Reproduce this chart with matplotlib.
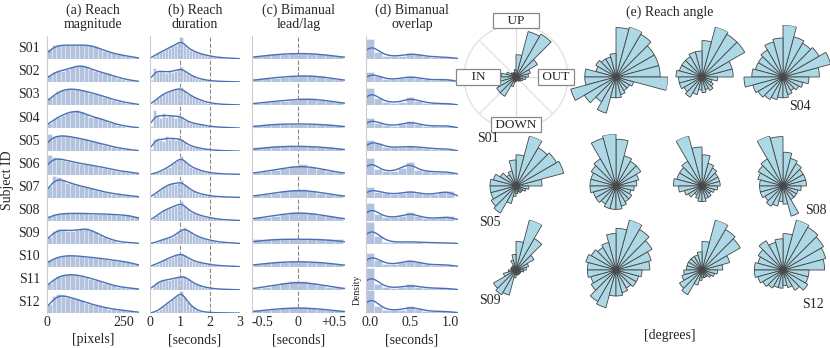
import numpy as np
import matplotlib
matplotlib.use("Agg")
import matplotlib.pyplot as plt
import seaborn as sns

sns.set_style("white")
plt.rcParams['font.family'] = ['Liberation Serif', 'DejaVu Serif']

# subjects
subjects = ["S01", "S02", "S03", "S04", "S05", "S06",
            "S07", "S08", "S09", "S10", "S11", "S12"]

# (a) reach magnitude, 20 bins over 0..300 px (heights as fraction of row)
mag_edges = np.linspace(0, 300, 21)
mag_hist = [
    [0.45, 0.6, 0.62, 0.6, 0.6, 0.6, 0.62, 0.6, 0.62, 0.6, 0.55, 0.45, 0.35, 0.3, 0.25, 0.2, 0.17, 0.12, 0.1, 0.08],
    [0.3, 0.45, 0.5, 0.5, 0.55, 0.65, 0.72, 0.75, 0.7, 0.55, 0.5, 0.45, 0.4, 0.35, 0.28, 0.2, 0.15, 0.1, 0.08, 0.06],
    [0.3, 0.45, 0.6, 0.68, 0.72, 0.72, 0.7, 0.65, 0.6, 0.55, 0.5, 0.45, 0.38, 0.3, 0.25, 0.2, 0.15, 0.1, 0.08, 0.06],
    [0.25, 0.4, 0.5, 0.6, 0.68, 0.75, 0.78, 0.72, 0.62, 0.5, 0.48, 0.45, 0.35, 0.28, 0.22, 0.15, 0.12, 0.08, 0.06, 0.05],
    [0.75, 0.65, 0.68, 0.7, 0.68, 0.62, 0.58, 0.55, 0.52, 0.45, 0.4, 0.35, 0.3, 0.25, 0.2, 0.15, 0.12, 0.1, 0.07, 0.05],
    [0.85, 0.78, 0.7, 0.65, 0.6, 0.55, 0.5, 0.48, 0.45, 0.42, 0.38, 0.35, 0.3, 0.25, 0.2, 0.17, 0.14, 0.12, 0.1, 0.08],
    [0.5, 0.95, 0.9, 0.75, 0.65, 0.6, 0.55, 0.5, 0.45, 0.4, 0.35, 0.3, 0.25, 0.2, 0.18, 0.15, 0.12, 0.1, 0.08, 0.06],
    [0.2, 0.28, 0.3, 0.32, 0.32, 0.32, 0.33, 0.32, 0.32, 0.3, 0.3, 0.3, 0.3, 0.28, 0.28, 0.26, 0.25, 0.24, 0.22, 0.2],
    [0.3, 0.55, 0.65, 0.6, 0.58, 0.55, 0.6, 0.65, 0.7, 0.62, 0.5, 0.4, 0.3, 0.22, 0.15, 0.1, 0.08, 0.06, 0.05, 0.04],
    [0.3, 0.4, 0.45, 0.48, 0.5, 0.5, 0.48, 0.46, 0.44, 0.42, 0.4, 0.38, 0.35, 0.32, 0.3, 0.27, 0.25, 0.2, 0.18, 0.15],
    [0.3, 0.5, 0.6, 0.65, 0.68, 0.68, 0.66, 0.62, 0.58, 0.5, 0.45, 0.4, 0.32, 0.25, 0.2, 0.15, 0.12, 0.1, 0.08, 0.07],
    [0.4, 0.75, 0.82, 0.8, 0.72, 0.65, 0.6, 0.55, 0.45, 0.4, 0.35, 0.3, 0.25, 0.2, 0.18, 0.15, 0.12, 0.1, 0.08, 0.06],
]

# (b) reach duration, 30 bins over 0..3 s
dur_edges = np.linspace(0, 3, 31)
dur_hist = [
    [0.05, 0.15, 0.25, 0.3, 0.35, 0.45, 0.5, 0.55, 0.6, 0.7, 0.95, 0.6, 0.5, 0.4, 0.35, 0.3, 0.25, 0.2, 0.18, 0.15, 0.12, 0.1, 0.08, 0.07, 0.06, 0.05, 0.04, 0.04, 0.03, 0.03],
    [0.1, 0.6, 0.45, 0.5, 0.45, 0.4, 0.5, 0.45, 0.5, 0.55, 0.65, 0.5, 0.4, 0.3, 0.25, 0.2, 0.15, 0.12, 0.1, 0.08, 0.06, 0.05, 0.04, 0.04, 0.03, 0.03, 0.02, 0.02, 0.02, 0.02],
    [0.05, 0.2, 0.3, 0.4, 0.5, 0.55, 0.6, 0.65, 0.7, 0.7, 0.8, 0.6, 0.5, 0.45, 0.35, 0.3, 0.25, 0.2, 0.15, 0.12, 0.1, 0.08, 0.06, 0.05, 0.04, 0.04, 0.03, 0.03, 0.02, 0.02],
    [0.1, 0.8, 0.55, 0.45, 0.65, 0.5, 0.6, 0.55, 0.45, 0.6, 0.55, 0.35, 0.3, 0.25, 0.22, 0.2, 0.18, 0.15, 0.12, 0.1, 0.08, 0.07, 0.06, 0.05, 0.05, 0.04, 0.04, 0.03, 0.03, 0.03],
    [0.1, 0.55, 0.6, 0.5, 0.45, 0.65, 0.55, 0.6, 0.5, 0.6, 0.55, 0.4, 0.3, 0.25, 0.2, 0.18, 0.15, 0.12, 0.1, 0.08, 0.07, 0.06, 0.05, 0.04, 0.04, 0.03, 0.03, 0.03, 0.02, 0.02],
    [0.02, 0.05, 0.1, 0.15, 0.2, 0.3, 0.35, 0.45, 0.55, 0.65, 0.8, 0.6, 0.45, 0.35, 0.3, 0.25, 0.2, 0.15, 0.12, 0.1, 0.08, 0.06, 0.05, 0.04, 0.03, 0.03, 0.02, 0.02, 0.02, 0.02],
    [0.05, 0.15, 0.25, 0.35, 0.45, 0.5, 0.6, 0.62, 0.6, 0.65, 0.75, 0.55, 0.45, 0.35, 0.28, 0.22, 0.18, 0.15, 0.12, 0.1, 0.08, 0.06, 0.05, 0.04, 0.04, 0.03, 0.03, 0.02, 0.02, 0.02],
    [0.05, 0.15, 0.25, 0.35, 0.45, 0.5, 0.55, 0.6, 0.65, 0.7, 0.85, 0.65, 0.5, 0.4, 0.35, 0.3, 0.25, 0.2, 0.18, 0.15, 0.12, 0.1, 0.08, 0.06, 0.05, 0.04, 0.04, 0.03, 0.03, 0.02],
    [0.02, 0.05, 0.1, 0.15, 0.2, 0.25, 0.25, 0.3, 0.4, 0.5, 0.6, 0.75, 0.6, 0.5, 0.4, 0.35, 0.3, 0.25, 0.2, 0.18, 0.15, 0.12, 0.1, 0.08, 0.07, 0.06, 0.05, 0.04, 0.04, 0.03],
    [0.05, 0.1, 0.15, 0.2, 0.3, 0.35, 0.4, 0.45, 0.5, 0.55, 0.62, 0.5, 0.4, 0.32, 0.28, 0.22, 0.2, 0.17, 0.15, 0.12, 0.1, 0.08, 0.07, 0.06, 0.05, 0.04, 0.04, 0.03, 0.03, 0.03],
    [0.05, 0.2, 0.35, 0.4, 0.42, 0.45, 0.45, 0.5, 0.52, 0.55, 0.6, 0.62, 0.5, 0.4, 0.3, 0.25, 0.2, 0.15, 0.12, 0.1, 0.08, 0.06, 0.05, 0.04, 0.04, 0.03, 0.03, 0.02, 0.02, 0.02],
    [0.02, 0.05, 0.1, 0.2, 0.3, 0.4, 0.5, 0.6, 0.7, 0.8, 0.95, 0.7, 0.5, 0.35, 0.25, 0.15, 0.1, 0.07, 0.05, 0.04, 0.03, 0.02, 0.02, 0.02, 0.02, 0.01, 0.01, 0.01, 0.01, 0.01],
]

# (c) bimanual lead/lag, 10 bins over -0.625..0.625 s
lag_edges = np.linspace(-0.625, 0.625, 11)
lag_hist = [
    [0.15, 0.18, 0.2, 0.22, 0.26, 0.28, 0.25, 0.2, 0.18, 0.15],
    [0.15, 0.18, 0.2, 0.22, 0.28, 0.32, 0.3, 0.25, 0.2, 0.15],
    [0.12, 0.15, 0.18, 0.2, 0.25, 0.3, 0.32, 0.25, 0.2, 0.15],
    [0.15, 0.18, 0.18, 0.2, 0.2, 0.2, 0.2, 0.18, 0.17, 0.15],
    [0.18, 0.2, 0.22, 0.22, 0.24, 0.24, 0.22, 0.2, 0.18, 0.16],
    [0.1, 0.15, 0.2, 0.28, 0.38, 0.45, 0.35, 0.25, 0.15, 0.1],
    [0.12, 0.15, 0.2, 0.28, 0.35, 0.38, 0.3, 0.22, 0.15, 0.12],
    [0.15, 0.18, 0.22, 0.3, 0.4, 0.4, 0.32, 0.25, 0.2, 0.15],
    [0.2, 0.2, 0.2, 0.2, 0.22, 0.2, 0.2, 0.2, 0.2, 0.2],
    [0.15, 0.18, 0.2, 0.22, 0.25, 0.25, 0.22, 0.2, 0.18, 0.15],
    [0.1, 0.15, 0.2, 0.3, 0.38, 0.4, 0.3, 0.22, 0.15, 0.12],
    [0.12, 0.15, 0.18, 0.22, 0.25, 0.25, 0.22, 0.18, 0.15, 0.12],
]

# (d) bimanual overlap, 11 bins over -0.05..1.05 s
ovl_edges = np.linspace(-0.05, 1.05, 12)
ovl_hist = [
    [0.85, 0.3, 0.15, 0.12, 0.15, 0.25, 0.2, 0.12, 0.1, 0.1, 0.08],
    [0.45, 0.25, 0.15, 0.12, 0.18, 0.25, 0.2, 0.12, 0.1, 0.12, 0.12],
    [0.75, 0.3, 0.15, 0.12, 0.15, 0.35, 0.2, 0.12, 0.08, 0.08, 0.08],
    [0.45, 0.25, 0.15, 0.12, 0.18, 0.3, 0.2, 0.12, 0.1, 0.12, 0.12],
    [0.5, 0.35, 0.2, 0.18, 0.2, 0.22, 0.2, 0.15, 0.12, 0.12, 0.12],
    [0.7, 0.25, 0.15, 0.15, 0.3, 0.55, 0.2, 0.15, 0.12, 0.12, 0.12],
    [0.45, 0.25, 0.2, 0.15, 0.2, 0.3, 0.2, 0.15, 0.15, 0.25, 0.3],
    [0.75, 0.3, 0.15, 0.15, 0.2, 0.38, 0.2, 0.12, 0.1, 0.15, 0.2],
    [0.95, 0.35, 0.1, 0.08, 0.08, 0.1, 0.08, 0.06, 0.05, 0.05, 0.05],
    [0.6, 0.3, 0.15, 0.12, 0.2, 0.3, 0.2, 0.12, 0.1, 0.1, 0.1],
    [0.95, 0.25, 0.12, 0.1, 0.12, 0.25, 0.15, 0.1, 0.08, 0.08, 0.08],
    [1.0, 0.3, 0.15, 0.12, 0.15, 0.3, 0.2, 0.1, 0.08, 0.08, 0.08],
]

# (e) reach angle, 24 bins of 15 deg counter-clockwise from OUT (relative radius)
angle_step = 15
rose = [
    [0.25, 0.3, 0.5, 1.0, 0.95, 0.45, 0.15, 0.1, 0.1, 0.12, 0.2, 0.3, 0.35, 0.4, 0.45, 0.45, 0.2, 0.1, 0.08, 0.08, 0.1, 0.12, 0.15, 0.2],
    [0.85, 0.85, 0.85, 0.95, 1.0, 0.95, 0.45, 0.4, 0.4, 0.45, 0.4, 0.6, 0.6, 0.9, 0.7, 0.55, 0.72, 0.4, 0.4, 0.35, 0.3, 0.3, 0.35, 1.0],
    [0.6, 0.6, 0.95, 0.95, 1.0, 0.7, 0.5, 0.5, 0.45, 0.45, 0.45, 0.5, 0.45, 0.45, 0.4, 0.45, 0.35, 0.25, 0.3, 0.25, 0.3, 0.25, 0.2, 0.3],
    [0.7, 0.95, 0.8, 0.75, 0.8, 1.0, 0.75, 0.7, 0.6, 0.55, 0.55, 0.6, 0.75, 0.6, 0.55, 0.5, 0.45, 0.4, 0.4, 0.35, 0.3, 0.35, 0.4, 0.5],
    [0.5, 0.95, 0.9, 0.85, 1.0, 0.6, 0.5, 0.3, 0.25, 0.35, 0.45, 0.5, 0.5, 0.5, 0.55, 0.6, 0.35, 0.2, 0.15, 0.12, 0.15, 0.15, 0.2, 0.25],
    [0.4, 0.45, 0.55, 0.55, 0.6, 0.9, 1.0, 0.95, 0.6, 0.55, 0.5, 0.5, 0.5, 0.45, 0.45, 0.4, 0.45, 0.45, 0.45, 0.4, 0.35, 0.35, 0.3, 0.35],
    [0.35, 0.35, 0.35, 0.4, 0.45, 0.6, 0.75, 1.0, 0.55, 0.5, 0.5, 0.55, 0.45, 0.35, 0.3, 0.2, 0.25, 0.3, 0.3, 0.25, 0.25, 0.2, 0.25, 0.3],
    [0.45, 0.45, 0.45, 0.5, 0.55, 0.65, 0.95, 1.0, 0.6, 0.55, 0.5, 0.45, 0.45, 0.45, 0.4, 0.45, 0.4, 0.3, 0.35, 0.6, 0.3, 0.3, 0.3, 0.35],
    [0.2, 0.25, 0.4, 0.7, 1.0, 0.55, 0.3, 0.2, 0.1, 0.1, 0.1, 0.1, 0.15, 0.25, 0.5, 0.55, 0.5, 0.15, 0.1, 0.1, 0.1, 0.1, 0.1, 0.15],
    [0.65, 0.7, 0.8, 0.9, 1.0, 0.8, 0.7, 0.55, 0.5, 0.55, 0.6, 0.55, 0.55, 0.5, 0.55, 0.7, 0.75, 0.5, 0.5, 0.45, 0.4, 0.45, 0.45, 0.5],
    [0.4, 0.55, 0.85, 0.9, 1.0, 0.55, 0.35, 0.3, 0.3, 0.3, 0.3, 0.3, 0.35, 0.4, 0.5, 0.55, 0.3, 0.2, 0.15, 0.15, 0.15, 0.2, 0.25, 0.3],
    [0.8, 0.85, 0.9, 0.95, 1.0, 0.7, 0.6, 0.55, 0.65, 0.55, 0.5, 0.55, 0.55, 0.5, 0.45, 0.4, 0.35, 0.35, 0.3, 0.35, 0.45, 0.55, 0.5, 0.5],
]

W, H = 830, 348
fig = plt.figure(figsize=(W / 100, H / 100), dpi=100)


def px_axes(x0, y0, w, h, **kw):
    return fig.add_axes([x0 / W, 1 - (y0 + h) / H, w / W, h / H], **kw)


bar_color = "#4C72B0"
line_color = "#4A6FB5"

columns = [
    # (left px, width px, xlim, edges, data, bw_adjust, ticks, ticklabels, dashed, title, xlabel)
    (47, 92, (0, 300), mag_edges, mag_hist, 0.5, [0, 250], ["0", "250"], [],
     "(a) Reach\nmagnitude", "[pixels]"),
    (150, 90, (0, 3), dur_edges, dur_hist, 0.4, [0, 1, 2, 3], ["0", "1", "2", "3"], [1, 2],
     "(b) Reach\nduration", "[seconds]"),
    (252, 93, (-0.64, 0.65), lag_edges, lag_hist, 1.0, [-0.5, 0, 0.5], ["-0.5", "0", "+0.5"], [0],
     "(c) Bimanual\nlead/lag", "[seconds]"),
    (366, 92, (-0.05, 1.1), ovl_edges, ovl_hist, 0.35, [0, 0.5, 1.0], ["0.0", "0.5", "1.0"], [],
     "(d) Bimanual\noverlap", "[seconds]"),
]

top, row_h = 36, 23.1
for ci, (x0, w, xlim, edges, data, bwa, ticks, tlabels, dashed, title, xlabel) in enumerate(columns):
    centers = (edges[:-1] + edges[1:]) / 2
    binw = edges[1] - edges[0]
    for ri, subj in enumerate(subjects):
        ax = px_axes(x0, top + ri * row_h, w, row_h)
        h = np.asarray(data[ri])
        ax.hist(centers, bins=edges, weights=h, density=True,
                color=bar_color, alpha=0.42, edgecolor="white", linewidth=0.6)
        sns.kdeplot(x=centers, weights=h, bw_adjust=bwa, cut=3, ax=ax,
                    color=line_color, linewidth=1.0)
        for xv in dashed:
            ax.axvline(xv, color="#888888", ls="--", lw=0.8, zorder=0)
        ax.set_xlim(*xlim)
        # one row height = a bar of relative height 1
        ax.set_ylim(0, 1.0 / (h.sum() * binw))
        ax.set_yticks([])
        ax.set_ylabel("")
        for s in ["top", "right", "bottom"]:
            ax.spines[s].set_visible(False)
        ax.spines["left"].set_color("#cccccc")
        ax.spines["left"].set_linewidth(0.8)
        ax.tick_params(axis="x", length=0, pad=2, labelsize=10)
        if ri == len(subjects) - 1:
            ax.set_xticks(ticks)
            ax.set_xticklabels(tlabels)
        else:
            ax.set_xticks([])
        if ci == 0:
            ax.text(-0.075, 0.45, subj, transform=ax.transAxes, ha="right",
                    va="center", fontsize=10)
    fig.text((x0 + w / 2) / W, 1 - 4 / H, title, ha="center", va="top",
             fontsize=10, linespacing=1.05)
    fig.text((x0 + w / 2) / W, 1 - 340 / H, xlabel, ha="center", va="center",
             fontsize=10)

fig.text(8 / W, 1 - 180 / H, "Subject ID", rotation=90, ha="center",
         va="center", fontsize=10)
fig.text(357 / W, 1 - 290 / H, "Density", rotation=90, ha="center",
         va="center", fontsize=7)

# rose plots
R = 52
rose_centers = [(516, 77), (616, 77), (702, 77), (783, 77),
                (516, 186), (616, 186), (702, 186), (783, 186),
                (516, 270), (616, 270), (702, 270), (783, 270)]
theta = np.deg2rad(np.arange(0, 360, angle_step) + angle_step / 2)
for i, (cx, cy) in enumerate(rose_centers):
    ax = px_axes(cx - R, cy - R, 2 * R, 2 * R, projection="polar")
    ax.patch.set_alpha(0)
    ax.bar(theta, rose[i], width=np.deg2rad(angle_step), bottom=0,
           color="#ADD8E6", edgecolor="#454545", linewidth=0.6, zorder=3)
    ax.set_yticks([])
    if i == 0:
        ax.set_ylim(0, max(rose[i]) * 1.05)
        ax.set_xticks(np.deg2rad(np.arange(0, 360, 45)))
        ax.set_xticklabels([])
        ax.grid(True, color="#dddddd", lw=0.8)
        ax.spines["polar"].set_color("#dddddd")
        box = dict(boxstyle="square,pad=0.12", fc="white", ec="#888888", lw=0.9)
        for tx, ty, lab in [(0.5, 1.04, "    UP    "), (0.5, 0.04, " DOWN "),
                            (0.135, 0.5, "    IN    "), (0.885, 0.5, " OUT ")]:
            ax.text(tx, ty, lab, transform=ax.transAxes, ha="center",
                    va="center", fontsize=9.5, bbox=box, zorder=5)
    else:
        ax.set_ylim(0, max(rose[i]))
        ax.set_xticks([])
        ax.grid(False)
        ax.spines["polar"].set_visible(False)

for lab, (x, y) in zip(["S01", "S04", "S05", "S08", "S09", "S12"],
                       [(488, 139), (800, 106), (490, 222), (816, 211),
                        (490, 301), (813, 305)]):
    fig.text(x / W, 1 - y / H, lab, ha="center", va="center", fontsize=10)

fig.text(670 / W, 1 - 12 / H, "(e) Reach angle", ha="center", va="center",
         fontsize=10)
fig.text(670 / W, 1 - 335 / H, "[degrees]", ha="center", va="center",
         fontsize=10)

fig.savefig("out.png", dpi=100)
